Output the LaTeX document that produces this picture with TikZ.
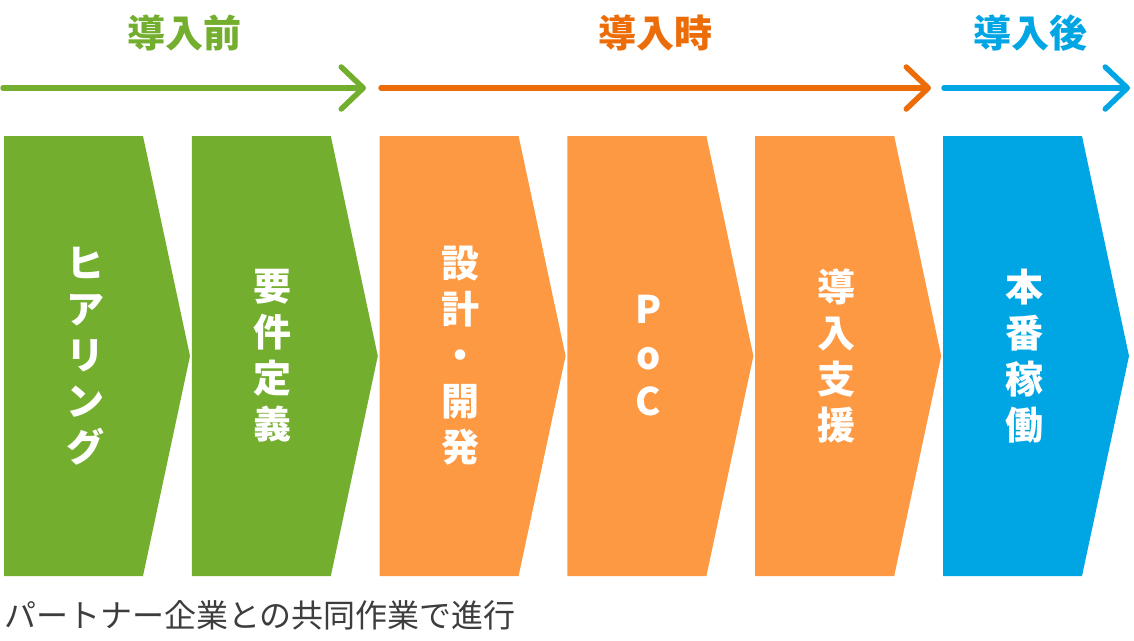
\documentclass[tikz,border=0pt]{standalone}
\usepackage{fontspec}
\setmainfont{Noto Sans CJK JP}
\usetikzlibrary{arrows.meta, positioning}

\definecolor{phasegreen}{HTML}{74AE2F}
\definecolor{phaseorange}{HTML}{EC6C08}
\definecolor{blockorange}{HTML}{FD9943}
\definecolor{phaseblue}{HTML}{00A6E4}
\definecolor{notegray}{HTML}{3D3D3D}

\begin{document}
\begin{tikzpicture}[x=1pt, y=-1pt,
    phase/.style={line width=5.5pt, line cap=round,
      -{Straight Barb[length=22pt, width=42pt, line cap=round, line join=round]}},
    phaselabel/.style={font=\bfseries\fontsize{38}{38}\selectfont},
    steptext/.style={text=white, align=center, inner sep=0pt,
      font=\bfseries\fontsize{38}{46}\selectfont},
  ]
  \useasboundingbox (0,0) rectangle (1134,640);
  %
  % phases
  \node[phaselabel, text=phasegreen] (before) at (184,33) {導入前};
  \node[phaselabel, text=phaseorange] (during) at (655,33) {導入時};
  \node[phaselabel, text=phaseblue] (after) at (1030,33) {導入後};
  %
  \coordinate (before-s) at (3,88);
  \coordinate (before-e) at (366,88);
  \coordinate (during-s) at (381,88);
  \coordinate (during-e) at (931,88);
  \coordinate (after-s) at (944,88);
  \coordinate (after-e) at (1130,88);
  \draw[phase, phasegreen] (before-s) -- (before-e);
  \draw[phase, phaseorange] (during-s) -- (during-e);
  \draw[phase, phaseblue] (after-s) -- (after-e);
  %
  % steps
  \foreach \i/\col/\txt/\nm in {0/phasegreen/{ヒ\\ア\\リ\\ン\\グ}/hearing,
      1/phasegreen/{要\\件\\定\\義}/reqdef,
      2/blockorange/{設\\計\\・\\開\\発}/design,
      3/blockorange/{P\\o\\C}/poc,
      4/blockorange/{導\\入\\支\\援}/support,
      5/phaseblue/{本\\番\\稼\\働}/golive} {
    \pgfmathsetmacro{\x}{4+187.8*\i}
    \fill[\col] (\x,136) -- ++(139,0) -- ++(47,220) -- ++(-47,220) -- ++(-139,0) -- cycle;
    \node[steptext] (\nm) at (\x+81,356) {\txt};
  }
  %
  \node[anchor=west, inner sep=0pt, text=notegray, font=\fontsize{32}{32}\selectfont]
    (note) at (4,615) {パートナー企業との共同作業で進行};
\end{tikzpicture}
\end{document}
